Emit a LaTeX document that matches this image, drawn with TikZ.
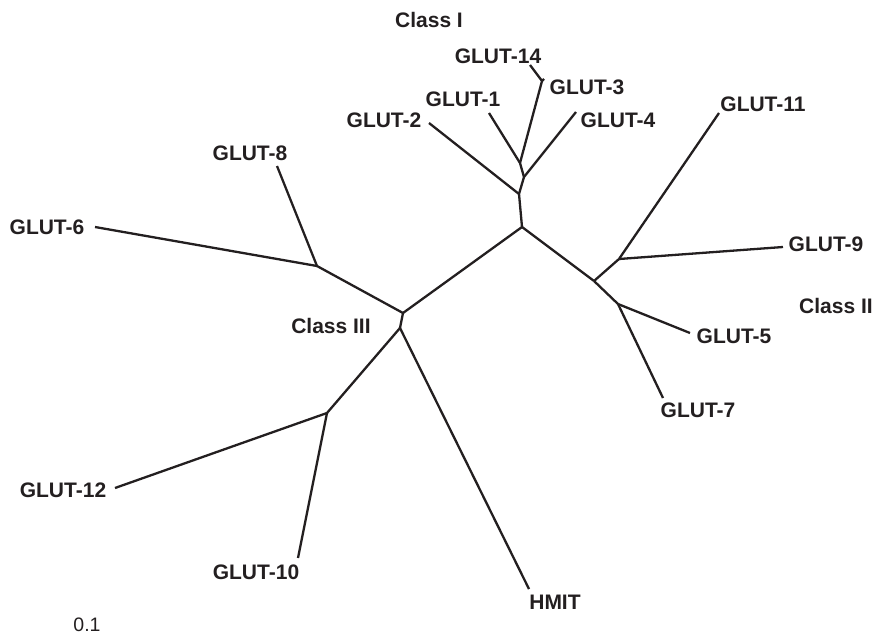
\documentclass[tikz,border=0pt]{standalone}
\usepackage{fontspec}
\setmainfont{Liberation Sans}
\definecolor{ink}{HTML}{231F20}
\begin{document}
\begin{tikzpicture}[x=1pt,y=-1pt,
  lbl/.style={font=\bfseries\fontsize{21}{24}\selectfont, text=ink, inner sep=0pt},
  scl/.style={font=\fontsize{19.5}{23}\selectfont, text=ink, inner sep=0pt},
  br/.style={draw=ink, line width=2.3pt, line join=round}]
\useasboundingbox (0,0) rectangle (876,637);
% internal nodes
\coordinate (A) at (520,163);
\coordinate (P) at (542,81);
\coordinate (B) at (524,177);
\coordinate (C) at (519,194);
\coordinate (D) at (522,227);
\coordinate (F) at (594,281);
\coordinate (E) at (619,259);
\coordinate (G) at (618,304);
\coordinate (I) at (403,313);
\coordinate (H) at (317,266);
\coordinate (J) at (400,328);
\coordinate (K) at (327,413);
% leaf ends
\coordinate (e14) at (530,65);
\coordinate (e3) at (544,79);
\coordinate (e1) at (489,113);
\coordinate (e4) at (576,112);
\coordinate (e2) at (429,123);
\coordinate (e11) at (719,113);
\coordinate (e9) at (783,247);
\coordinate (e5) at (690,333);
\coordinate (e7) at (663,398);
\coordinate (e8) at (277,166);
\coordinate (e6) at (95,227);
\coordinate (e12) at (115,488);
\coordinate (e10) at (298,558);
\coordinate (eH) at (529,589);
% labels
\node[lbl] (cI) at (429,20) {Class I};
\node[lbl] (cII) at (836,306) {Class II};
\node[lbl] (cIII) at (331,326) {Class III};
\node[lbl] (l14) at (498,56) {GLUT-14};
\node[lbl] (l3) at (587,87) {GLUT-3};
\node[lbl] (l1) at (463,99) {GLUT-1};
\node[lbl] (l4) at (618,120) {GLUT-4};
\node[lbl] (l2) at (384,120) {GLUT-2};
\node[lbl] (l11) at (763,104) {GLUT-11};
\node[lbl] (l9) at (826,244) {GLUT-9};
\node[lbl] (l5) at (734,336) {GLUT-5};
\node[lbl] (l7) at (698,410) {GLUT-7};
\node[lbl] (l8) at (250,153) {GLUT-8};
\node[lbl] (l6) at (47,227) {GLUT-6};
\node[lbl] (l12) at (63,490) {GLUT-12};
\node[lbl] (l10) at (256,572) {GLUT-10};
\node[lbl] (lH) at (555,602) {HMIT};
\node[scl] (sc) at (87,625) {0.1};
% branches
\draw[br] (e14) -- (P) -- (A);
\draw[br] (P) -- (e3);
\draw[br] (e1) -- (A) -- (B);
\draw[br] (e4) -- (B) -- (C);
\draw[br] (e2) -- (C) -- (D);
\draw[br] (D) -- (F);
\draw[br] (F) -- (E);
\draw[br] (E) -- (e11);
\draw[br] (E) -- (e9);
\draw[br] (F) -- (G);
\draw[br] (G) -- (e5);
\draw[br] (G) -- (e7);
\draw[br] (D) -- (I);
\draw[br] (I) -- (H);
\draw[br] (H) -- (e8);
\draw[br] (H) -- (e6);
\draw[br] (I) -- (J);
\draw[br] (J) -- (K);
\draw[br] (K) -- (e12);
\draw[br] (K) -- (e10);
\draw[br] (J) -- (eH);
\end{tikzpicture}
\end{document}
